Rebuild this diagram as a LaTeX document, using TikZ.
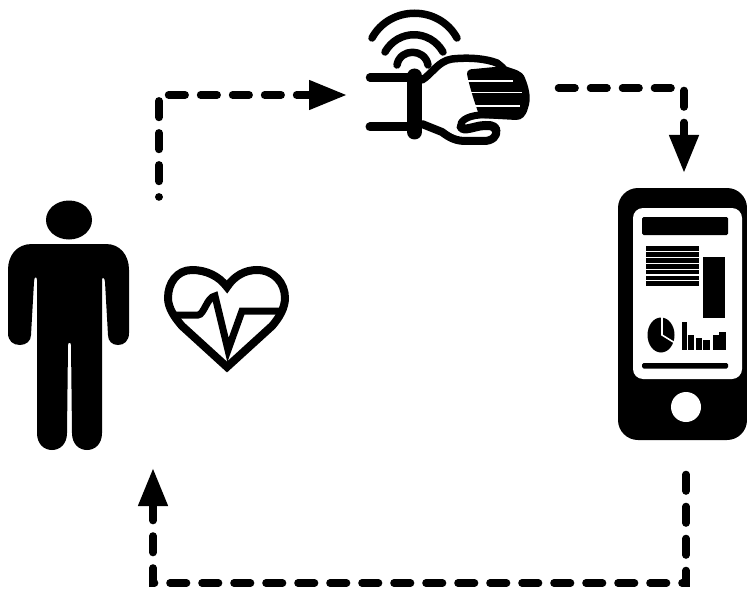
\documentclass[tikz,border=0pt]{standalone}
\usetikzlibrary{arrows.meta}
\tikzset{
  dashflow/.style={line width=7.6pt,line cap=round,dash pattern=on 16.5pt off 15.5pt,-{Triangle[length=38pt,width=28pt,line cap=butt]}},
  icon/.style={line width=7.5pt,line cap=round,line join=round},
  gap/.style={draw=white,line width=1.6pt},
}
\begin{document}
\begin{tikzpicture}[x=1pt,y=-1pt]
\useasboundingbox (0,0) rectangle (747,591);
% person
\fill[black] (69,220) ellipse [x radius=23,y radius=19.5];
\fill[black] (32,244) -- (106,244)
  .. controls (120,244) and (129,255) .. (129,270)
  -- (129,333) .. controls (129,341) and (124,345) .. (118,345)
  .. controls (112,345) and (108,341) .. (108,335)
  -- (105,282) .. controls (105,278) and (102,276) .. (102,280)
  -- (102,433) .. controls (102,444) and (95,450) .. (87,450)
  .. controls (79,450) and (72,444) .. (72,433)
  -- (71,345) .. controls (71,342) and (68,342) .. (68,345)
  -- (67,433) .. controls (67,444) and (60,450) .. (52,450)
  .. controls (44,450) and (37,444) .. (37,433)
  -- (37,280) .. controls (37,276) and (34,276) .. (34,282)
  -- (31,335) .. controls (31,341) and (26,345) .. (20,345)
  .. controls (13,345) and (8,341) .. (8,333)
  -- (8,270) .. controls (8,255) and (17,244) .. (32,244) -- cycle;
% heart
\draw[line width=8pt,line join=miter,miter limit=2] (227,287)
  .. controls (219,276) and (206,270) .. (192,270)
  .. controls (177,270) and (168,283) .. (168,298)
  .. controls (168,308) and (175,318) .. (182,326)
  -- (227,367) -- (272,326)
  .. controls (279,318) and (285,308) .. (285,298)
  .. controls (285,283) and (274,270) .. (257,270)
  .. controls (245,270) and (234,276) .. (227,287) -- cycle;
\draw[line width=7pt,line join=miter,miter limit=20] (175,315) -- (198,315)
  .. controls (204,315) and (207,297) .. (215,296)
  -- (228,350) -- (242,311) -- (279,311);
% wearable
\draw[icon] (372,38) .. controls (390,5) and (439,5) .. (457,38);
\draw[icon] (385,52) .. controls (398,29) and (430,29) .. (443,52);
\draw[icon] (397,65) .. controls (400,48) and (425,48) .. (428,65);
\draw[line width=8.5pt,line cap=round] (370,77.5) -- (410,77.5);
\draw[line width=9pt,line cap=round] (370,127) -- (410,127);
\draw[line width=15pt,line cap=round] (414.5,76) -- (414.5,132);
\draw[icon] (422,80) .. controls (432,74) and (438,61) .. (452,59)
  .. controls (470,57) and (487,59) .. (497,63) -- (503,68);
\fill[black] (467,74) .. controls (467,70) and (470,69) .. (474,69)
  -- (505,66) .. controls (515,70) and (522,70) .. (525,78)
  .. controls (530,90) and (531,100) .. (528,108)
  .. controls (526,116) and (522,120) .. (516,120)
  -- (480,118) .. controls (478,112) and (470,90) .. (467,74) -- cycle;
\draw[gap] (465,81) -- (513,81);
\draw[gap] (465,92.5) -- (522,92.5);
\draw[gap] (465,106) -- (520,106);
\draw[line width=7pt,line cap=round,line join=round] (505,115) -- (480,115)
  .. controls (466,116) and (459,122) .. (461,127);
\draw[line width=9pt,line cap=round,line join=round] (461,127) .. controls (463,131) and (470,128) .. (480,126)
  .. controls (488,125) and (495,125) .. (496,130);
\draw[line width=8pt,line cap=round,line join=round] (422,124) -- (442,132)
  .. controls (450,138) and (456,141) .. (466,141) -- (484,141)
  .. controls (492,141) and (498,136) .. (496,130);
% phone
\fill[black,rounded corners=20pt] (618,188) rectangle (747,440);
\fill[white,rounded corners=10pt] (633,208) rectangle (742,379);
\fill[black,rounded corners=1.5pt] (642,217) rectangle (728,235);
\foreach \yy in {246,251.9,257.8,263.7,269.6,275.5,281.4}
  \fill[black] (646,\yy) rectangle (699,\yy+4.8);
\fill[black] (703,257) rectangle (725,318);
\fill[black] (661,335) ellipse [x radius=13.5,y radius=17.5];
\draw[gap] (662,316) -- (662,335) -- (675,343);
\fill[black] (682,322) rectangle (687,350);
\fill[black] (688,335) rectangle (694,350);
\fill[black] (696,338) rectangle (702,350);
\fill[black] (703,340) rectangle (710,350);
\fill[black] (713,335) rectangle (719,350);
\fill[black] (719,332) rectangle (726,350);
\fill[black,rounded corners=1.5pt] (642,363) rectangle (728,368.5);
\fill[white] (686,407) circle (15);
% connectors
\coordinate (personTop) at (159,197);
\coordinate (wearableIn) at (347,95);
\coordinate (wearableOut) at (558.5,88);
\coordinate (phoneIn) at (684,173);
\coordinate (phoneOut) at (686,474.5);
\coordinate (personIn) at (153,468);
\draw[dashflow,dash phase=16.4pt] (personTop) |- (wearableIn);
\draw[dashflow] (wearableOut) -| (phoneIn);
\draw[dashflow] (phoneOut) |- (153,583) -- (personIn);
\end{tikzpicture}
\end{document}
